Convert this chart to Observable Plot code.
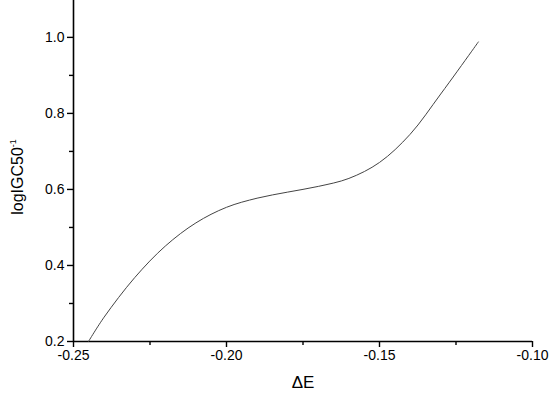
<!DOCTYPE html>
<html>
<head>
<meta charset="utf-8">
<script src="https://cdn.jsdelivr.net/npm/d3@7"></script>
<script src="https://cdn.jsdelivr.net/npm/@observablehq/plot@0.6"></script>
<style>
  html, body { margin: 0; padding: 0; background: #fff; }
</style>
</head>
<body>
<div id="chart"></div>
<script>
// Curve samples (ΔE vs logIGC50^-1)
const deltaE = [-0.2451, -0.24, -0.23, -0.22, -0.21, -0.20, -0.19, -0.18, -0.17, -0.16, -0.15, -0.14, -0.13, -0.12, -0.1177];
const logIGC = [0.200, 0.264, 0.368, 0.451, 0.512, 0.553, 0.577, 0.593, 0.608, 0.629, 0.671, 0.745, 0.851, 0.962, 0.988];

const xMajor = [-0.25, -0.20, -0.15, -0.10];
const xMinor = [-0.225, -0.175, -0.125];
const yMajor = [0.2, 0.4, 0.6, 0.8, 1.0];
const yMinor = [0.3, 0.5, 0.7, 0.9];

const data = deltaE.map((x, i) => ({x, y: logIGC[i]}));

const chart = Plot.plot({
  width: 550,
  height: 396,
  marginLeft: 73,
  marginRight: 18,
  marginTop: 0,
  marginBottom: 55,
  style: {fontFamily: "'Liberation Sans', Arial, sans-serif", fontSize: "14px", color: "#000", background: "#fff"},
  x: {domain: [-0.25, -0.10], axis: null},
  y: {domain: [0.2, 1.097], axis: null},
  marks: [
    Plot.axisX({ticks: xMajor, tickSize: 6, tickPadding: 3, tickFormat: d => d.toFixed(2), label: null, fontSize: 14, strokeWidth: 1.4}),
    Plot.axisX({ticks: xMinor, tickSize: 4, text: null, label: null, strokeWidth: 1.4}),
    Plot.axisY({ticks: yMajor, tickSize: 6, tickPadding: 3, tickFormat: d => d.toFixed(1), label: null, fontSize: 14, strokeWidth: 1.4}),
    Plot.axisY({ticks: yMinor, tickSize: 4, text: null, label: null, strokeWidth: 1.4}),
    Plot.ruleY([0.2], {stroke: "#000", strokeWidth: 1.6}),
    Plot.ruleX([-0.25], {stroke: "#000", strokeWidth: 1.6}),
    Plot.line(data, {x: "x", y: "y", curve: "catmull-rom", stroke: "#444", strokeWidth: 1}),
    Plot.text(["ΔE"], {frameAnchor: "bottom", dy: 46, fontSize: 17, lineAnchor: "bottom", fill: "#000"})
  ]
});

document.getElementById("chart").appendChild(chart);

// Y-axis title with superscript
const svg = d3.select(chart);
const t = svg.append("text")
  .attr("transform", "translate(23,177) rotate(-90)")
  .attr("text-anchor", "middle")
  .attr("font-family", "'Liberation Sans', Arial, sans-serif")
  .attr("font-size", 16)
  .attr("fill", "#000");
t.append("tspan").text("logIGC50");
t.append("tspan").attr("font-size", 9).attr("dy", -7).text("-1");
</script>
</body>
</html>
